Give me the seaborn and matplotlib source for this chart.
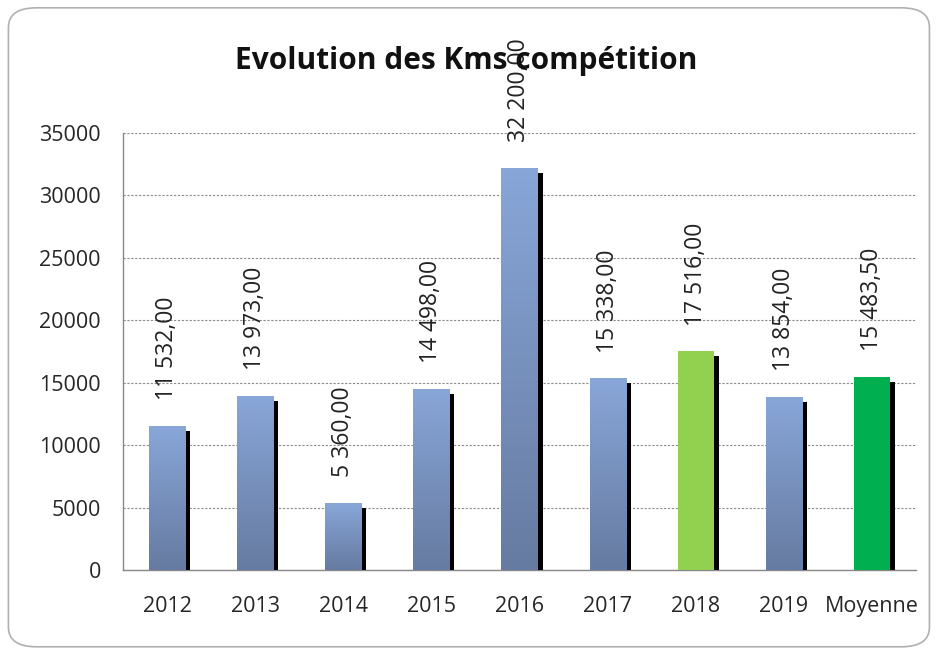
import numpy as np
import pandas as pd
import matplotlib
matplotlib.use('Agg')
import matplotlib.pyplot as plt
import matplotlib.patheffects as pe
from matplotlib.patches import FancyBboxPatch
from matplotlib.colors import LinearSegmentedColormap
import seaborn as sns

annees = ['2012', '2013', '2014', '2015', '2016', '2017', '2018', '2019', 'Moyenne']
kms = [11532, 13973, 5360, 14498, 32200, 15338, 17516, 13854, 15483.5]
couleurs = ['grad', 'grad', 'grad', 'grad', 'grad', 'grad', '#92D050', 'grad', '#00B050']

df = pd.DataFrame({'annee': annees, 'kms': kms})

sns.set_style('white')
plt.rcParams['font.family'] = ['Open Sans', 'DejaVu Sans']

fig = plt.figure(figsize=(9.36, 6.52), dpi=100)
ax = fig.add_axes([0.1314, 0.1258, 0.8472, 0.6702])

# cadre arrondi
cadre = FancyBboxPatch((0.009, 0.008), 0.984, 0.98, boxstyle='round,pad=0,rounding_size=0.03',
                       transform=fig.transFigure, facecolor='white', edgecolor='#b0b0b0', lw=1.2, zorder=-10)
fig.patches.append(cadre)

sns.barplot(data=df, x='annee', y='kms', ax=ax, width=0.41, color='#7F9BCB', saturation=1, zorder=3)

grad = LinearSegmentedColormap.from_list('g', ['#667BA1', '#88A6D8'])
for p, c in zip(ax.patches, couleurs):
    p.set_edgecolor('none')
    p.set_path_effects([pe.SimplePatchShadow(offset=(3.6, -3.6), shadow_rgbFace='black', alpha=1), pe.Normal()])
    if c == 'grad':
        x0, y0, w, h = p.get_x(), p.get_y(), p.get_width(), p.get_height()
        im = ax.imshow(np.linspace(0, 1, 100).reshape(-1, 1), cmap=grad, origin='lower', aspect='auto',
                       extent=[x0, x0 + w, y0, y0 + h], zorder=3.5)
        im.set_clip_path(p)
    else:
        p.set_facecolor(c)

def fr(v):
    s = f'{v:,.2f}'
    return s.replace(',', ' ').replace('.', ',')

for i, v in enumerate(kms):
    ax.text(i, v + 2050, fr(v), rotation=90, ha='center', va='bottom', fontsize=16.5, color='#222222', zorder=6)

ax.set_xlim(-0.5, len(annees) - 0.5)
ax.set_ylim(0, 35000)
ax.set_yticks(range(0, 35001, 5000))
ax.set_yticklabels([str(t) for t in range(0, 35001, 5000)], fontsize=15.5)
ax.set_xticks(range(len(annees)))
ax.set_xticklabels(annees, fontsize=15.5)
ax.set_xticks(np.arange(-0.5, len(annees), 1), minor=True)
ax.tick_params(axis='x', which='major', length=0, pad=19)
ax.tick_params(axis='x', which='minor', length=6, color='#888888', direction='out')
ax.tick_params(axis='y', length=5, color='#888888', direction='out', pad=11)
ax.set_xlabel('')
ax.set_ylabel('')
ax.yaxis.grid(True, linestyle=(0, (2, 1.5)), color='#8a8a8a', lw=0.8, zorder=0)
ax.set_axisbelow(True)
sns.despine(ax=ax, top=True, right=True)
for s in ['left', 'bottom']:
    ax.spines[s].set_color('#888888')
    ax.spines[s].set_linewidth(1)

fig.text(0.498, 0.906, 'Evolution des Kms compétition', ha='center', va='center', fontsize=21.5, fontweight='bold', color='#111111')

fig.savefig('out.png', dpi=100)
